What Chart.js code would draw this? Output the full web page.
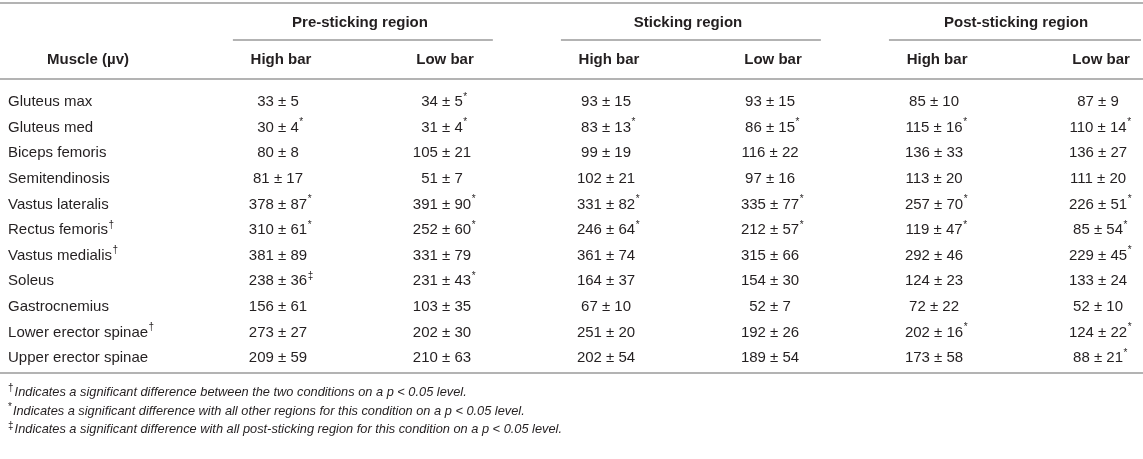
<!DOCTYPE html>
<html>
<head>
<meta charset="utf-8">
<script src="https://cdn.jsdelivr.net/npm/chart.js@4.4.1/dist/chart.umd.min.js"></script>
<style>
  body { margin: 0; background: #fff; }
  canvas { display: block; }
</style>
</head>
<body>
<canvas id="chart" width="1143" height="459"></canvas>
<script>
// table content
const muscles = ["Gluteus max", "Gluteus med", "Biceps femoris", "Semitendinosis", "Vastus lateralis",
  "Rectus femoris", "Vastus medialis", "Soleus", "Gastrocnemius", "Lower erector spinae", "Upper erector spinae"];
const muscleMarks = ["", "", "", "", "", "†", "†", "", "", "†", ""];

const regions = ["Pre-sticking region", "Sticking region", "Post-sticking region"];
const conditions = ["High bar", "Low bar"];

const preHighMean = [33, 30, 80, 81, 378, 310, 381, 238, 156, 273, 209];
const preHighSd = [5, 4, 8, 17, 87, 61, 89, 36, 61, 27, 59];
const preHighMark = ["", "*", "", "", "*", "*", "", "‡", "", "", ""];

const preLowMean = [34, 31, 105, 51, 391, 252, 331, 231, 103, 202, 210];
const preLowSd = [5, 4, 21, 7, 90, 60, 79, 43, 35, 30, 63];
const preLowMark = ["*", "*", "", "", "*", "*", "", "*", "", "", ""];

const stickHighMean = [93, 83, 99, 102, 331, 246, 361, 164, 67, 251, 202];
const stickHighSd = [15, 13, 19, 21, 82, 64, 74, 37, 10, 20, 54];
const stickHighMark = ["", "*", "", "", "*", "*", "", "", "", "", ""];

const stickLowMean = [93, 86, 116, 97, 335, 212, 315, 154, 52, 192, 189];
const stickLowSd = [15, 15, 22, 16, 77, 57, 66, 30, 7, 26, 54];
const stickLowMark = ["", "*", "", "", "*", "*", "", "", "", "", ""];

const postHighMean = [85, 115, 136, 113, 257, 119, 292, 124, 72, 202, 173];
const postHighSd = [10, 16, 33, 20, 70, 47, 46, 23, 22, 16, 58];
const postHighMark = ["", "*", "", "", "*", "*", "", "", "", "*", ""];

const postLowMean = [87, 110, 136, 111, 226, 85, 229, 133, 52, 124, 88];
const postLowSd = [9, 14, 27, 20, 51, 54, 45, 24, 10, 22, 21];
const postLowMark = ["", "*", "", "", "*", "*", "*", "", "", "*", "*"];

const footMarks = ["†", "*", "‡"];
const footTexts = [
  "Indicates a significant difference between the two conditions on a p < 0.05 level.",
  "Indicates a significant difference with all other regions for this condition on a p < 0.05 level.",
  "Indicates a significant difference with all post-sticking region for this condition on a p < 0.05 level."
];

// layout in scale units: columns 1..6, rows 0..10
const labelCol = -0.646;
const rowTop = -3.87, rowGroup = -3.1, rowUnder = -2.44, rowSub = -1.66, rowHead = -0.88;
const rowBottom = 10.59, rowFoot = [11.33, 12.07, 12.81];

const columns = [
  [preHighMean, preHighSd, preHighMark],
  [preLowMean, preLowSd, preLowMark],
  [stickHighMean, stickHighSd, stickHighMark],
  [stickLowMean, stickLowSd, stickLowMark],
  [postHighMean, postHighSd, postHighMark],
  [postLowMean, postLowSd, postLowMark]
];

const FONT = '"Liberation Sans", Arial, sans-serif';
const INK = "#231f20";
const RULE = "#b3b3b3";

function drawWithMark(ctx, text, mark, px, py, align, font, markFont) {
  ctx.font = font;
  const w = ctx.measureText(text).width;
  const left = align === "center" ? px - w / 2 : px;
  ctx.textAlign = "left";
  ctx.fillText(text, left, py);
  if (mark) {
    ctx.font = markFont;
    ctx.fillText(mark, left + w + 0.5, py - 5);
  }
}

const tablePlugin = {
  id: "tableText",
  afterDatasetsDraw(chart) {
    const ctx = chart.ctx;
    const xs = chart.scales.x, ys = chart.scales.y;
    ctx.save();
    ctx.fillStyle = INK;
    ctx.textBaseline = "middle";

    // horizontal rules
    ctx.strokeStyle = RULE;
    ctx.lineWidth = 2;
    const hline = (x0, x1, row) => {
      const py = Math.round(ys.getPixelForValue(row));
      ctx.beginPath();
      ctx.moveTo(x0, py);
      ctx.lineTo(x1, py);
      ctx.stroke();
    };
    hline(xs.left, xs.right, rowTop);
    hline(xs.left, xs.right, rowHead);
    hline(xs.left, xs.right, rowBottom);
    regions.forEach((r, i) => {
      const a = xs.getPixelForValue(1 + i * 2 - 0.275);
      const b = Math.min(xs.right - 2, xs.getPixelForValue(2 + i * 2 + 0.31));
      hline(a, b, rowUnder);
    });

    // header text
    ctx.font = "bold 15px " + FONT;
    ctx.textAlign = "center";
    regions.forEach((r, i) => {
      ctx.fillText(r, xs.getPixelForValue(1.5 + i * 2), ys.getPixelForValue(rowGroup));
    });
    for (let c = 0; c < 6; c++) {
      ctx.fillText(conditions[c % 2], xs.getPixelForValue(c + 1) + 3, ys.getPixelForValue(rowSub));
    }
    ctx.fillText("Muscle (\u00b5v)", 88, ys.getPixelForValue(rowSub));

    // body cells from dataset elements
    chart.data.datasets.forEach((ds, d) => {
      const meta = chart.getDatasetMeta(d);
      meta.data.forEach((pt, j) => {
        const cell = ds.data[j];
        drawWithMark(ctx, cell.text, cell.mark, pt.x, pt.y, ds.align,
          "15px " + FONT, "10px " + FONT);
      });
    });

    // footnotes
    footTexts.forEach((t, i) => {
      const py = ys.getPixelForValue(rowFoot[i]);
      ctx.font = "10px " + FONT;
      ctx.textAlign = "left";
      const mw = ctx.measureText(footMarks[i]).width;
      ctx.fillText(footMarks[i], xs.getPixelForValue(labelCol), py - 4);
      ctx.font = "italic 12.8px " + FONT;
      ctx.fillText(t, xs.getPixelForValue(labelCol) + mw + 1, py);
    });
    ctx.restore();
  }
};

const datasets = [{
  label: "Muscle",
  align: "left",
  data: muscles.map((m, j) => ({ x: labelCol, y: j, text: m, mark: muscleMarks[j] })),
  pointRadius: 0
}];
columns.forEach((col, c) => {
  datasets.push({
    label: regions[Math.floor(c / 2)] + " " + conditions[c % 2],
    align: "center",
    data: col[0].map((m, j) => ({ x: c + 1, y: j, text: m + " \u00b1 " + col[1][j], mark: col[2][j] })),
    pointRadius: 0
  });
});

new Chart(document.getElementById("chart"), {
  type: "scatter",
  data: { datasets: datasets },
  options: {
    responsive: false,
    animation: false,
    events: [],
    layout: { padding: 0 },
    plugins: { legend: { display: false }, tooltip: { enabled: false } },
    scales: {
      x: { type: "linear", display: false, min: -0.695, max: 6.274 },
      y: { type: "linear", display: false, min: -3.984, max: 13.945, reverse: true }
    }
  },
  plugins: [tablePlugin]
});
</script>
</body>
</html>
